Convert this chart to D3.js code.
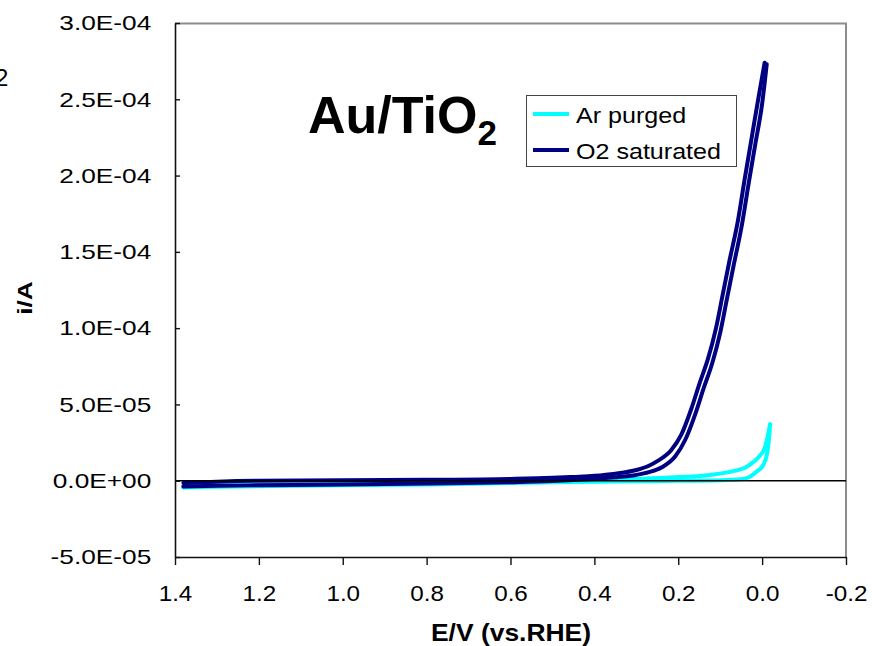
<!DOCTYPE html>
<html>
<head>
<meta charset="utf-8">
<script src="https://cdn.jsdelivr.net/npm/d3@7"></script>
<style>
  body { margin: 0; background: #fff; }
  svg { display: block; font-family: "Liberation Sans", Arial, sans-serif; }
</style>
</head>
<body>
<svg id="chart" width="872" height="646"></svg>
<script>
// x-axis ticks (potential, V vs RHE) - axis runs from 1.4 down to -0.2
var xTicks = [1.4, 1.2, 1.0, 0.8, 0.6, 0.4, 0.2, 0.0, -0.2];
var xTickLabels = ["1.4", "1.2", "1.0", "0.8", "0.6", "0.4", "0.2", "0.0", "-0.2"];
// y-axis ticks (current, A)
var yTicks = [-5e-5, 0, 5e-5, 1e-4, 1.5e-4, 2e-4, 2.5e-4, 3e-4];
var yTickLabels = ["-5.0E-05", "0.0E+00", "5.0E-05", "1.0E-04", "1.5E-04", "2.0E-04", "2.5E-04", "3.0E-04"];

// Ar purged : two sweeps of the CV loop, [E, i]
var arSweep1 = [[1.38,-3.6e-6],[1.2,-2.8e-6],[1.0,-2.2e-6],[0.8,-1.6e-6],[0.6,-0.8e-6],[0.45,-0.2e-6],
  [0.35,0.5e-6],[0.291,1.2e-6],[0.22,2.1e-6],[0.124,3.8e-6],[0.069,6.3e-6],[0.041,8.5e-6],
  [0.022,1.2e-5],[0.005,1.65e-5],[-0.007,2.2e-5],[-0.014,3.0e-5],[-0.019,3.7e-5]];
var arSweep2 = [[1.38,-4.4e-6],[1.2,-3.6e-6],[1.0,-3.0e-6],[0.8,-2.4e-6],[0.6,-1.5e-6],[0.45,-0.9e-6],
  [0.291,-0.4e-6],[0.2,-0.1e-6],[0.1,0.3e-6],[0.05,1.0e-6],[0.03,2.5e-6],[0.013,6e-6],
  [-0.002,1.0e-5],[-0.012,1.8e-5],[-0.016,2.6e-5],[-0.019,3.7e-5]];

// O2 saturated : two sweeps
var o2Sweep1 = [[1.38,-1.5e-6],[1.3,-0.6e-6],[1.2,0.0],[1.0,0.3e-6],[0.8,0.6e-6],[0.6,1.2e-6],[0.5,1.9e-6],
  [0.45,2.5e-6],[0.4,3.2e-6],[0.35,4.6e-6],[0.3,7.0e-6],[0.27,9.8e-6],[0.249,1.3e-5],[0.217,2.0e-5],
  [0.193,3.0e-5],[0.169,4.7e-5],[0.149,6.4e-5],[0.129,8.0e-5],[0.110,1.0e-4],[0.094,1.22e-4],
  [0.078,1.44e-4],[0.058,1.70e-4],[0.042,1.97e-4],[0.026,2.23e-4],[0.010,2.49e-4],[-0.006,2.74e-4]];
var o2Sweep2 = [[1.38,-3.8e-6],[1.3,-3.3e-6],[1.2,-3.0e-6],[1.0,-2.5e-6],[0.8,-1.9e-6],[0.6,-1.0e-6],[0.5,-0.2e-6],
  [0.45,0.4e-6],[0.4,1.2e-6],[0.35,2.2e-6],[0.3,3.8e-6],[0.27,5.6e-6],[0.239,8.8e-6],[0.207,1.6e-5],
  [0.183,2.7e-5],[0.159,4.4e-5],[0.139,6.1e-5],[0.119,7.7e-5],[0.100,9.7e-5],[0.084,1.19e-4],
  [0.068,1.41e-4],[0.048,1.68e-4],[0.032,1.95e-4],[0.016,2.21e-4],[0.0,2.47e-4],[-0.011,2.73e-4]];

var seriesNames = ["Ar purged", "O2 saturated"];
var seriesColors = ["#00FFFF", "#000080"];

var svg = d3.select("#chart");
var plotL = 175, plotR = 846, plotT = 23, plotB = 557;

var x = d3.scaleLinear().domain([1.4, -0.2]).range([plotL, plotR]);
var y = d3.scaleLinear().domain([-5e-5, 3e-4]).range([plotB, plotT]);

// plot frame (grey top / right)
svg.append("path")
   .attr("d", "M" + plotL + "," + (plotT + 0.5) + "H" + plotR + "V" + plotB)
   .attr("fill", "none")
   .attr("stroke", "#8c8c8c")
   .attr("stroke-width", 2);

var line = d3.line()
   .x(function(d) { return x(d[0]); })
   .y(function(d) { return y(d[1]); })
   .curve(d3.curveMonotoneX);

var curves = [[arSweep1, arSweep2], [o2Sweep1, o2Sweep2]];
curves.forEach(function(pair, k) {
  pair.forEach(function(sw) {
    svg.append("path")
       .datum(sw)
       .attr("d", line)
       .attr("fill", "none")
       .attr("stroke", seriesColors[k])
       .attr("stroke-width", 4)
       .attr("stroke-linejoin", "round")
       .attr("stroke-linecap", "round");
  });
});

// zero line
svg.append("line")
   .attr("x1", plotL).attr("x2", plotR)
   .attr("y1", y(0)).attr("y2", y(0))
   .attr("stroke", "#000")
   .attr("stroke-width", 1.5);

// axes
var xAxis = d3.axisBottom(x)
   .tickValues(xTicks)
   .tickFormat(function(d, i) { return xTickLabels[i]; })
   .tickSizeInner(8).tickSizeOuter(0).tickPadding(20);
var gx = svg.append("g").attr("transform", "translate(0," + plotB + ")").call(xAxis);

var yAxis = d3.axisLeft(y)
   .tickValues(yTicks)
   .tickFormat(function(d, i) { return yTickLabels[i]; })
   .tickSizeInner(-5).tickSizeOuter(0).tickPadding(19);
var gy = svg.append("g").attr("transform", "translate(" + plotL + ",0)").call(yAxis);

[gx, gy].forEach(function(g) {
  g.select(".domain").attr("stroke", "#111").attr("stroke-width", 1.6);
  g.selectAll(".tick line").attr("stroke", "#111").attr("stroke-width", 1.4);
  g.selectAll(".tick text")
   .attr("fill", "#000")
   .attr("font-family", "Liberation Sans, Arial, sans-serif")
   .attr("font-size", 21);
});
gy.selectAll(".tick text").attr("transform", "scale(1.25,1)");
gx.selectAll(".tick text").attr("font-size", 22).attr("transform", "scale(1.1,1)");

// axis titles
svg.append("text")
   .attr("transform", "translate(511,641) scale(1.15,1)")
   .attr("text-anchor", "middle")
   .attr("font-weight", "bold").attr("font-size", 23)
   .text("E/V (vs.RHE)");

svg.append("text")
   .attr("transform", "translate(32,298) rotate(-90) scale(1.25,1)")
   .attr("text-anchor", "middle")
   .attr("font-weight", "bold").attr("font-size", 21)
   .text("i/A");

// clipped fragment at top-left edge
svg.append("text")
   .attr("x", -5).attr("y", 86)
   .attr("font-size", 24)
   .text("2");

// panel title
var title = svg.append("text")
   .attr("x", 308).attr("y", 133)
   .attr("font-weight", "bold").attr("font-size", 52);
title.append("tspan").text("Au/TiO");
title.append("tspan").attr("font-size", 35).attr("dy", 12).text("2");

// legend
var lg = svg.append("g");
lg.append("rect")
  .attr("x", 526.5).attr("y", 95.5)
  .attr("width", 210).attr("height", 71)
  .attr("fill", "#fff")
  .attr("stroke", "#444").attr("stroke-width", 1);
seriesNames.forEach(function(name, i) {
  var yy = 114 + i * 36;
  lg.append("line")
    .attr("x1", 533).attr("x2", 569)
    .attr("y1", yy).attr("y2", yy)
    .attr("stroke", seriesColors[i]).attr("stroke-width", 4);
  lg.append("text")
    .attr("transform", "translate(576," + (yy + 9) + ") scale(1.14,1)")
    .attr("font-size", 22)
    .text(name);
});
</script>
</body>
</html>
